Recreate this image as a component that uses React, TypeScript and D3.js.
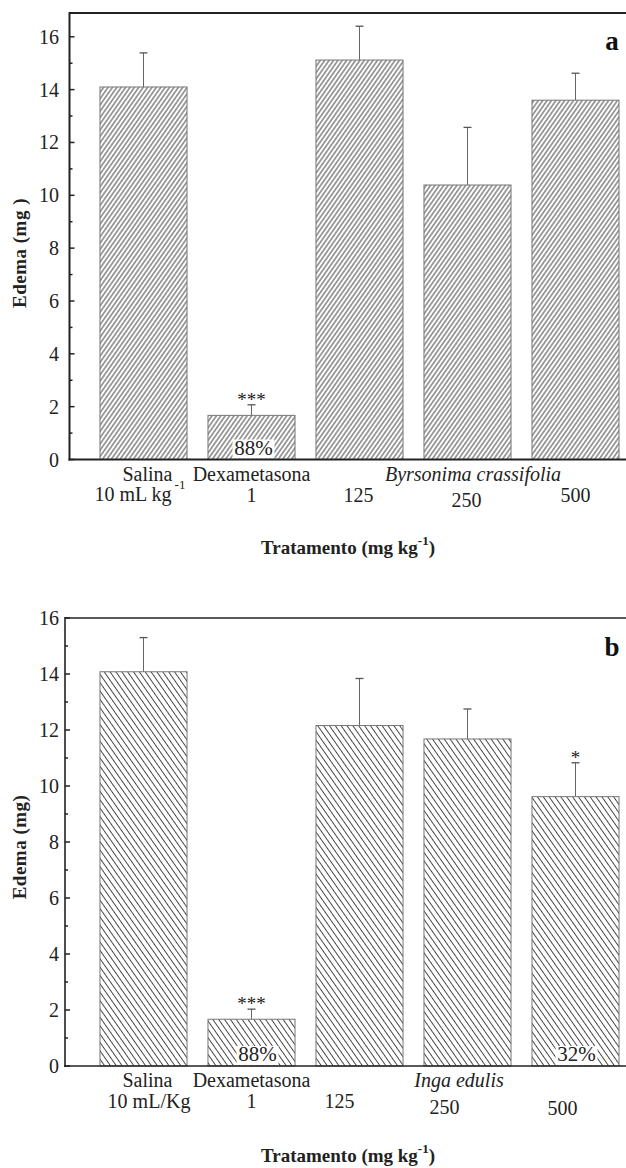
import React from "react";
import * as d3 from "d3";

const categories = ["Salina", "Dexametasona", "125", "250", "500"];
const meansA = [14.1, 1.67, 15.12, 10.39, 13.6];
const errA = [1.29, 0.4, 1.28, 2.18, 1.02];
const meansB = [14.08, 1.67, 12.16, 11.68, 9.62];
const errB = [1.22, 0.36, 1.68, 1.07, 1.21];
const yTicks = [0, 2, 4, 6, 8, 10, 12, 14, 16];
const minorTicks = [1, 3, 5, 7, 9, 11, 13, 15];

const FONT = "'Liberation Serif', 'Times New Roman', serif";
const W = 626;
const H = 1168;

type PanelProps = {
  id: string;
  letter: string;
  means: number[];
  errs: number[];
  yMax: number;
  yBottom: number;
  yTop: number;
  axisX: number;
  axisW: number;
  hatchAngle: number;
  hatchGap: number;
  species: string;
  speciesX: number;
  doseOffsets: number[];
  doseDy: number[];
  salineLine2: React.ReactNode;
  percent: { i: number; text: string; dx: number }[];
  stars: { i: number; text: string }[];
  yTitle: string;
  yTitleY: number;
  titleY: number;
  letterY: number;
};

function Panel(p: PanelProps) {
  const x = d3
    .scaleBand<string>()
    .domain(categories)
    .range([89.5, 629.5])
    .paddingInner(0.194)
    .paddingOuter(0.097);
  const y = d3.scaleLinear().domain([0, p.yMax]).range([p.yBottom, p.yTop]);
  const bw = x.bandwidth();
  const pid = "hatch-" + p.id;
  const lab1 = p.yBottom + 21;
  const lab2 = p.yBottom + 42;
  return (
    <g>
      <defs>
        <pattern
          id={pid}
          patternUnits="userSpaceOnUse"
          width={p.hatchGap}
          height={10}
          patternTransform={`rotate(${p.hatchAngle})`}
        >
          <rect width={p.hatchGap} height={10} fill="#fff" />
          <line x1={p.hatchGap / 2} y1={0} x2={p.hatchGap / 2} y2={10} stroke="#444" strokeWidth={1} />
        </pattern>
      </defs>
      {p.means.map((m, i) => {
        const cx = (x(categories[i]) as number) + bw / 2;
        return (
          <g key={i}>
            <line x1={cx} x2={cx} y1={y(m)} y2={y(m + p.errs[i])} stroke="#666" strokeWidth={1} />
            <line x1={cx - 4} x2={cx + 4} y1={y(m + p.errs[i])} y2={y(m + p.errs[i])} stroke="#555" strokeWidth={1.3} />
            <rect
              x={x(categories[i])}
              y={y(m)}
              width={bw}
              height={y(0) - y(m)}
              fill={`url(#${pid})`}
              stroke="#777"
              strokeWidth={1}
            />
          </g>
        );
      })}
      {p.percent.map((q, k) => {
        const cx = (x(categories[q.i]) as number) + bw / 2 + q.dx;
        return (
          <g key={"pc" + k}>
            <rect x={cx - 21} y={p.yBottom - 20} width={42} height={19} fill="#fff" />
            <text x={cx} y={p.yBottom - 5} textAnchor="middle" fontSize={21} fontFamily={FONT} fill="#222">
              {q.text}
            </text>
          </g>
        );
      })}
      {p.stars.map((s, k) => {
        const cx = (x(categories[s.i]) as number) + bw / 2;
        return (
          <text key={"st" + k} x={cx} y={y(p.means[s.i] + p.errs[s.i]) + 1} textAnchor="middle" fontSize={19} fontFamily={FONT} fill="#222">
            {s.text}
          </text>
        );
      })}
      <line x1={p.axisX} x2={W} y1={p.yTop} y2={p.yTop} stroke="#222" strokeWidth={p.axisW} />
      <line x1={p.axisX - 1} x2={W} y1={p.yBottom} y2={p.yBottom} stroke="#222" strokeWidth={p.axisW} />
      <line x1={p.axisX} x2={p.axisX} y1={p.yTop - 1} y2={p.yBottom + 1} stroke="#222" strokeWidth={p.axisW} />
      {yTicks.map((t) => (
        <g key={"t" + t}>
          <line x1={p.axisX} x2={p.axisX + 5} y1={y(t)} y2={y(t)} stroke="#222" strokeWidth={1.5} />
          <text x={59} y={y(t) + 7} textAnchor="end" fontSize={20} fontFamily={FONT} fill="#222">
            {t}
          </text>
        </g>
      ))}
      {minorTicks.map((t) => (
        <line key={"m" + t} x1={p.axisX} x2={p.axisX + 3} y1={y(t)} y2={y(t)} stroke="#222" strokeWidth={1.5} />
      ))}
      <g fontFamily={FONT} fontSize={20} fill="#222" textAnchor="middle">
        <text x={(x(categories[0]) as number) + bw / 2 + 4} y={lab1}>Salina</text>
        {p.salineLine2}
        <text x={(x(categories[1]) as number) + bw / 2} y={lab1}>Dexametasona</text>
        <text x={(x(categories[1]) as number) + bw / 2} y={lab2}>1</text>
        <text x={p.speciesX} y={lab1} fontStyle="italic">{p.species}</text>
        {[2, 3, 4].map((i) => (
          <text key={"d" + i} x={(x(categories[i]) as number) + bw / 2 + p.doseOffsets[i]} y={lab2 + p.doseDy[i]}>
            {categories[i]}
          </text>
        ))}
      </g>
      <text
        transform={`translate(26,${p.yTitleY}) rotate(-90)`}
        textAnchor="middle"
        fontFamily={FONT}
        fontWeight="bold"
        fontSize={19}
        letterSpacing={0.5}
        fill="#222"
      >
        {p.yTitle}
      </text>
      <text x={348} y={p.titleY} textAnchor="middle" fontFamily={FONT} fontWeight="bold" fontSize={19} fill="#222">
        Tratamento (mg kg
        <tspan fontSize={13} dy={-9}>-1</tspan>
        <tspan dy={9}>)</tspan>
      </text>
      <text x={612} y={p.letterY} textAnchor="middle" fontFamily={FONT} fontWeight="bold" fontSize={27} fill="#111">
        {p.letter}
      </text>
    </g>
  );
}

export default function App() {
  return (
    <svg
      width={W}
      height={H}
      viewBox={`0 0 ${W} ${H}`}
      style={{ position: "absolute", left: 0, top: 0, background: "#fff" }}
    >
      <rect width={W} height={H} fill="#fff" />
      <Panel
        id="a"
        letter="a"
        means={meansA}
        errs={errA}
        yMax={16.9}
        yBottom={459.5}
        yTop={13}
        axisX={69.5}
        axisW={2}
        hatchAngle={35}
        hatchGap={3.6}
        species="Byrsonima crassifolia"
        speciesX={473}
        doseOffsets={[0, 0, -1, -1, 0]}
        doseDy={[0, 0, 0, 5, 0]}
        salineLine2={
          <text x={140} y={501}>
            10 mL kg<tspan fontSize={13} dy={-12} dx={3}>-1</tspan>
          </text>
        }
        percent={[{ i: 1, text: "88%", dx: 2 }]}
        stars={[{ i: 1, text: "***" }]}
        yTitle="Edema (mg )"
        yTitleY={253}
        titleY={554}
        letterY={50}
      />
      <Panel
        id="b"
        letter="b"
        means={meansB}
        errs={errB}
        yMax={16}
        yBottom={1066}
        yTop={618}
        axisX={65}
        axisW={1.6}
        hatchAngle={-35}
        hatchGap={4.8}
        species="Inga edulis"
        speciesX={459}
        doseOffsets={[0, 0, -20, -23, -13]}
        doseDy={[0, 0, 0, 6, 7]}
        salineLine2={
          <text x={149} y={1108}>
            10 mL/Kg
          </text>
        }
        percent={[
          { i: 1, text: "88%", dx: 6 },
          { i: 4, text: "32%", dx: 1 },
        ]}
        stars={[
          { i: 1, text: "***" },
          { i: 4, text: "*" },
        ]}
        yTitle="Edema (mg)"
        yTitleY={847}
        titleY={1162}
        letterY={656}
      />
    </svg>
  );
}
